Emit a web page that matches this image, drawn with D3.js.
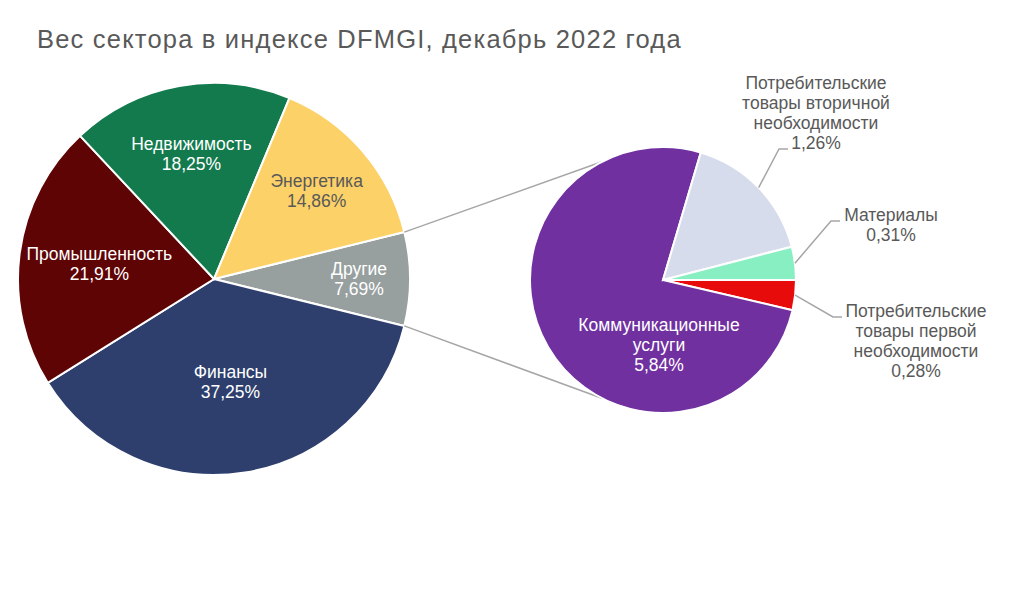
<!DOCTYPE html>
<html>
<head>
<meta charset="utf-8">
<script src="https://cdn.jsdelivr.net/npm/d3@7"></script>
<style>
  body { margin: 0; background: #fff; }
  text { font-family: "Liberation Sans", Arial, sans-serif; }
</style>
</head>
<body>
<script>
// main pie: "Другие" is exploded into the small pie on the right
var mainNames = ["Другие", "Финансы", "Промышленность", "Недвижимость", "Энергетика"]
var mainValues = [7.69, 37.25, 21.91, 18.25, 14.86]
var mainPct = ["7,69%", "37,25%", "21,91%", "18,25%", "14,86%"]

var subNames = [
  ["Потребительские", "товары первой", "необходимости"],
  ["Коммуникационные", "услуги"],
  ["Потребительские", "товары вторичной", "необходимости"],
  ["Материалы"]
]
var subValues = [0.28, 5.84, 1.26, 0.31]
var subPct = ["0,28%", "5,84%", "1,26%", "0,31%"]

var mainColors = ["#979f9f", "#2e3f6e", "#5f0404", "#137a4e", "#fcd167"]
var mainText = ["#fff", "#fff", "#fff", "#fff", "#595959"]
var subColors = ["#e80b0b", "#7030a0", "#d6dcec", "#87efc1"]

var width = 1024
var height = 594

var svg = d3.select("body").append("svg")
    .attr("width", width)
    .attr("height", height)

svg.append("text")
  .attr("x", 37)
  .attr("y", 48)
  .attr("font-size", 25.5)
  .attr("letter-spacing", 1.2)
  .attr("fill", "#595959")
  .text("Вес сектора в индексе DFMGI, декабрь 2022 года")

// ---- main pie
var mc = [214, 279], mr = 196
var total = d3.sum(mainValues)
var half = mainValues[0] / total * Math.PI   // center "Другие" at 3 o'clock

var mainPie = d3.pie().sort(null)
  .startAngle(Math.PI / 2 - half)
  .endAngle(Math.PI / 2 - half + 2 * Math.PI)
var mainArcs = mainPie(mainValues)
var arc = d3.arc().innerRadius(0).outerRadius(mr)

var gMain = svg.append("g").attr("transform", "translate(" + mc + ")")
gMain.selectAll("path")
  .data(mainArcs)
  .enter().append("path")
  .attr("d", arc)
  .attr("fill", function(d, i){ return mainColors[i] })
  .attr("stroke", "#fff")
  .attr("stroke-width", 2)

// label distance from center, as a share of radius (best fit like excel)
var mainLabelK = [0.74, 0.53, 0.59, 0.65, 0.69]
var mainLabels = gMain.selectAll("g.lab")
  .data(mainArcs)
  .enter().append("g")
  .attr("class", "lab")
  .attr("transform", function(d, i){
    var a = (d.startAngle + d.endAngle) / 2
    var k = mainLabelK[i] * mr
    return "translate(" + (Math.sin(a) * k) + "," + (-Math.cos(a) * k) + ")"
  })
mainLabels.append("text")
  .attr("text-anchor", "middle")
  .attr("font-size", 17.5)
  .attr("fill", function(d, i){ return mainText[i] })
  .selectAll("tspan")
  .data(function(d, i){ return [mainNames[i], mainPct[i]] })
  .enter().append("tspan")
  .attr("x", 0)
  .attr("y", function(d, j){ return j * 20 - 4 })
  .text(function(d){ return d })

// ---- secondary pie
var sc = [663, 280], sr = 133
var subPie = d3.pie().sort(null)
  .startAngle(Math.PI / 2)
  .endAngle(Math.PI / 2 + 2 * Math.PI)
var subArcs = subPie(subValues)
var sarc = d3.arc().innerRadius(0).outerRadius(sr)

// connector lines from "Другие" edges to the small pie
var linkAngle = 63 * Math.PI / 180
var other = mainArcs[0]
var links = [
  [other.startAngle, 1.5 * Math.PI + linkAngle],
  [other.endAngle, 1.5 * Math.PI - linkAngle]
]
svg.selectAll("line.link")
  .data(links)
  .enter().append("line")
  .attr("class", "link")
  .attr("x1", function(d){ return mc[0] + Math.sin(d[0]) * mr })
  .attr("y1", function(d){ return mc[1] - Math.cos(d[0]) * mr })
  .attr("x2", function(d){ return sc[0] + Math.sin(d[1]) * sr })
  .attr("y2", function(d){ return sc[1] - Math.cos(d[1]) * sr })
  .attr("stroke", "#a6a6a6")
  .attr("stroke-width", 1.5)

var gSub = svg.append("g").attr("transform", "translate(" + sc + ")")
gSub.selectAll("path")
  .data(subArcs)
  .enter().append("path")
  .attr("d", sarc)
  .attr("fill", function(d, i){ return subColors[i] })
  .attr("stroke", "#fff")
  .attr("stroke-width", 2)

// label placement relative to small pie center: text block center, leader end
var subLayout = [
  { text: [253, 61], end: [179, 37], fill: "#595959" },
  { text: [-4, 65], end: null, fill: "#fff" },
  { text: [153, -167], end: [125, -131], fill: "#595959" },
  { text: [228, -55], end: [177, -59], fill: "#595959" }
]

subArcs.forEach(function(d, i){
  var L = subLayout[i]
  if (L.end) {
    var a = (d.startAngle + d.endAngle) / 2
    var p0 = [Math.sin(a) * sr, -Math.cos(a) * sr]
    gSub.append("path")
      .attr("d", d3.line()([p0, [L.end[0] - 9, L.end[1]], L.end]))
      .attr("fill", "none")
      .attr("stroke", "#a6a6a6")
      .attr("stroke-width", 1.5)
  }
  var lines = subNames[i].concat([subPct[i]])
  var top = -(lines.length - 1) * 10
  gSub.append("text")
    .attr("text-anchor", "middle")
    .attr("font-size", 17.5)
    .attr("fill", L.fill)
    .selectAll("tspan")
    .data(lines)
    .enter().append("tspan")
    .attr("x", L.text[0])
    .attr("y", function(t, j){ return L.text[1] + top + j * 20 + 6 })
    .text(function(t){ return t })
})
</script>
</body>
</html>
